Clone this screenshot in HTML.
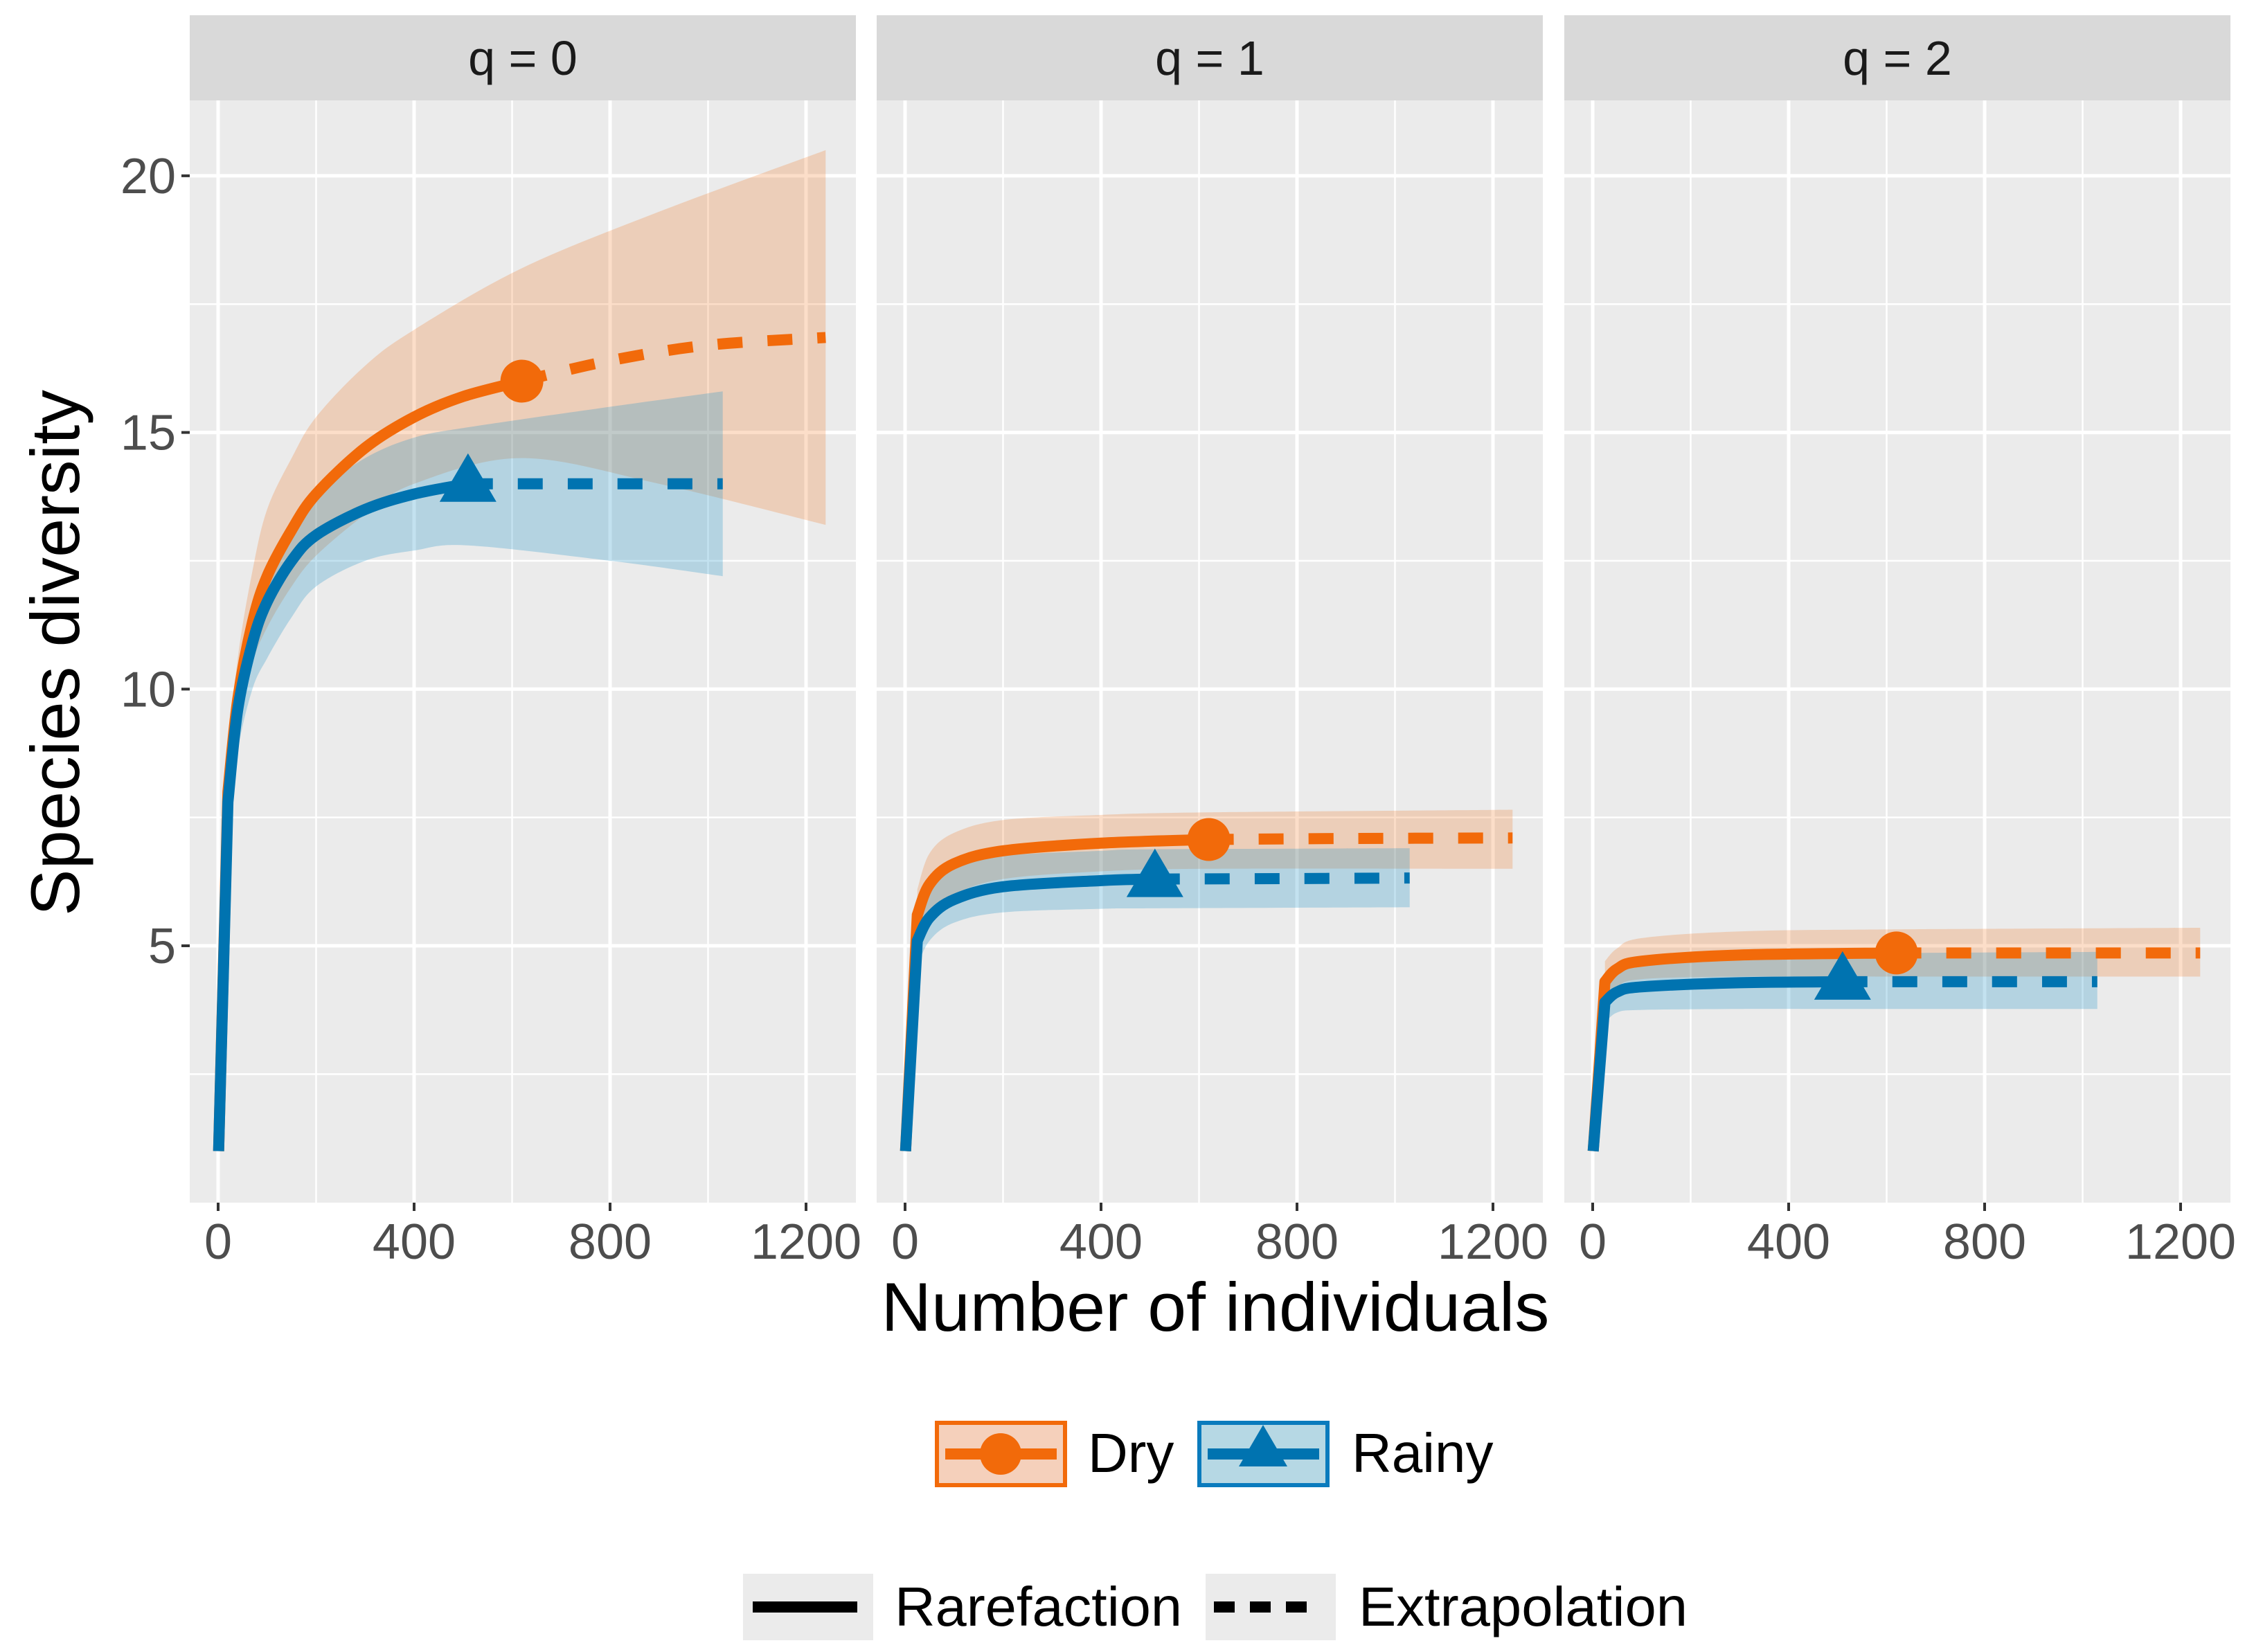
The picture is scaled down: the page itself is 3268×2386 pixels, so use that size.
<!DOCTYPE html>
<html><head><meta charset="utf-8">
<style>
html,body{margin:0;padding:0;background:#fff;}
svg{display:block;font-family:"Liberation Sans",Arial,sans-serif;}
</style></head>
<body>
<svg id="chart" width="3268" height="2386" viewBox="0 0 3268 2386" xmlns="http://www.w3.org/2000/svg"></svg>
<script>
// ---- data ----
const panelLabels = ["q = 0", "q = 1", "q = 2"];
const xTicks = [0, 400, 800, 1200];
const yTicks = [5, 10, 15, 20];
const dryRareX = [[1,20,40,70,100,150,200,300,400,500,620],[1,25,50,100,200,400,620],[1,25,50,100,300,620]];
const dryRareY = [[1,8,9.8,11.3,12.2,13.1,13.8,14.7,15.3,15.7,16.0],[1,5.6,6.2,6.6,6.85,7.0,7.07],[1,4.3,4.55,4.7,4.82,4.86]];
const dryExtX = [[620,800,1000,1240],[620,900,1240],[620,900,1240]];
const dryExtY = [[16.0,16.4,16.7,16.85],[7.07,7.09,7.1],[4.86,4.86,4.86]];
const dryCiX = [[20,40,70,100,150,200,300,400,620,900,1240],[25,50,100,200,400,620,1240],[25,50,100,300,620,1240]];
const dryCiLo = [[7.5,9.2,10.5,11.2,12.0,12.6,13.4,14.0,14.5,14.0,13.2],[5.1,5.6,6.0,6.3,6.45,6.5,6.5],[3.9,4.2,4.35,4.4,4.4,4.4]];
const dryCiHi = [[8.6,10.6,12.3,13.5,14.5,15.3,16.3,17.0,18.2,19.3,20.5],[6.1,6.8,7.2,7.45,7.55,7.6,7.65],[4.7,4.95,5.15,5.28,5.32,5.35]];
const rainyRareX = [[1,20,40,70,100,150,200,300,400,510],[1,25,50,100,200,400,510],[1,25,50,100,300,510]];
const rainyRareY = [[1,7.8,9.6,10.9,11.7,12.5,13.0,13.5,13.8,14.0],[1,5.1,5.55,5.9,6.15,6.27,6.3],[1,3.9,4.1,4.2,4.28,4.3]];
const rainyExtX = [[510,800,1030],[510,800,1030],[510,800,1030]];
const rainyExtY = [[14.0,14.0,14.0],[6.3,6.31,6.32],[4.3,4.3,4.3]];
const rainyCiX = [[20,40,70,100,150,200,300,400,510,800,1030],[25,50,100,200,400,510,1030],[25,50,100,300,510,1030]];
const rainyCiLo = [[7.2,8.8,10.0,10.6,11.4,12.0,12.5,12.7,12.8,12.5,12.2],[4.6,5.1,5.45,5.65,5.72,5.73,5.75],[3.5,3.7,3.75,3.77,3.77,3.77]];
const rainyCiHi = [[8.3,10.3,11.7,12.3,13.2,13.8,14.5,14.9,15.1,15.5,15.8],[5.6,6.1,6.5,6.75,6.85,6.88,6.9],[4.3,4.55,4.7,4.8,4.85,4.88]];
const dryRef = [[620,16.0],[620,7.07],[620,4.86]];
const rainyRef = [[510,14.0],[510,6.3],[510,4.3]];

// ---- layout ----
const NS = "http://www.w3.org/2000/svg";
const svg = document.getElementById("chart");
const panelW = 962, panelTop = 145, panelBot = 1737, stripTop = 22;
const panelLefts = [274, 1266, 2259];
const xOff = 41, xScale = 0.7075;
const yPx5 = 1366, yUnit = 74.14;
const ORANGE = "#f26a0a", BLUE = "#0073b0";
function el(tag, attrs, parent){const e=document.createElementNS(NS,tag);for(const k in attrs)e.setAttribute(k,attrs[k]);(parent||svg).appendChild(e);return e;}
function yPos(v){return yPx5-(v-5)*yUnit;}
function smooth(pts, start, straightFirst){
  let d = (start||"M")+pts[0][0]+","+pts[0][1];
  for(let i=0;i<pts.length-1;i++){
    let p0=pts[Math.max(0,i-1)];const p1=pts[i],p2=pts[i+1],p3=pts[Math.min(pts.length-1,i+2)];
    if(straightFirst && i===0){d+="L"+p2[0]+","+p2[1];continue;}
    if(straightFirst && i===1) p0=p1;
    const c1=[p1[0]+(p2[0]-p0[0])/6,p1[1]+(p2[1]-p0[1])/6];
    const c2=[p2[0]-(p3[0]-p1[0])/6,p2[1]-(p3[1]-p1[1])/6];
    d+="C"+c1.join(",")+" "+c2.join(",")+" "+p2.join(",");
  }
  return d;
}

panelLabels.forEach((lab,p)=>{
  const L = panelLefts[p];
  const xPos = v => L + xOff + v*xScale;
  const g = el("g",{});
  
  
  const strip = el("rect",{x:L,y:stripTop,width:panelW,height:panelTop-stripTop,fill:"#d9d9d9"},g);
  
  
  const st = el("text",{x:L+panelW/2,y:108,"text-anchor":"middle","font-size":70,fill:"#1a1a1a"},g);
  st.textContent = lab;
  
  
  const bg = el("rect",{x:L,y:panelTop,width:panelW,height:panelBot-panelTop,fill:"#ebebeb"},g);
  
  
  [200,600,1000].forEach(v=>el("line",{x1:xPos(v),x2:xPos(v),y1:panelTop,y2:panelBot,stroke:"#fff","stroke-width":2.5},g));
  [2.5,7.5,12.5,17.5].forEach(v=>el("line",{x1:L,x2:L+panelW,y1:yPos(v),y2:yPos(v),stroke:"#fff","stroke-width":2.5},g));
  xTicks.forEach(v=>el("line",{x1:xPos(v),x2:xPos(v),y1:panelTop,y2:panelBot,stroke:"#fff","stroke-width":5},g));
  yTicks.forEach(v=>el("line",{x1:L,x2:L+panelW,y1:yPos(v),y2:yPos(v),stroke:"#fff","stroke-width":5},g));
  xTicks.forEach(v=>{
    el("line",{x1:xPos(v),x2:xPos(v),y1:panelBot,y2:panelBot+12,stroke:"#333","stroke-width":4},g);
    const t=el("text",{x:xPos(v),y:1818,"text-anchor":"middle","font-size":72,fill:"#4d4d4d"},g);
    t.textContent=v;
    
    
  });
  if(p===0){
    yTicks.forEach(v=>{
      el("line",{x1:L-12,x2:L,y1:yPos(v),y2:yPos(v),stroke:"#333","stroke-width":4},g);
      const t=el("text",{x:L-20,y:yPos(v)+25,"text-anchor":"end","font-size":72,fill:"#4d4d4d"},g);
      t.textContent=v;
      
      
    });
  }
  function ribbon(xs,lo,hi,fill,name){
    const top = xs.map((x,i)=>[xPos(x),yPos(hi[i])]);
    const bot = xs.map((x,i)=>[xPos(x),yPos(lo[i])]).reverse();
    let d = smooth(top,"M",false) + smooth(bot,"L",false);
    const r=el("path",{d:d+"Z",fill:fill},g);
    
    
  }
  function line(xs,ys,col,dash,name){
    const pts = xs.map((x,i)=>[xPos(x),yPos(ys[i])]);
    const a={d:smooth(pts,"M",!dash),fill:"none",stroke:col,"stroke-width":16,"stroke-linejoin":"round"};
    if(dash)a["stroke-dasharray"]="36 36";
    const l=el("path",a,g);
    
    
  }
  ribbon(dryCiX[p],dryCiLo[p],dryCiHi[p],"rgba(242,106,10,0.22)","dry-ci-band");
  ribbon(rainyCiX[p],rainyCiLo[p],rainyCiHi[p],"rgba(40,150,200,0.28)","rainy-ci-band");
  line(dryRareX[p],dryRareY[p],ORANGE,false,"dry-rarefaction-line");
  line(dryExtX[p],dryExtY[p],ORANGE,true,"dry-extrapolation-line");
  line(rainyRareX[p],rainyRareY[p],BLUE,false,"rainy-rarefaction-line");
  line(rainyExtX[p],rainyExtY[p],BLUE,true,"rainy-extrapolation-line");
  const c=el("circle",{cx:xPos(dryRef[p][0]),cy:yPos(dryRef[p][1]),r:31,fill:ORANGE},g);
  
  
  const tx=xPos(rainyRef[p][0]), ty=yPos(rainyRef[p][1]);
  const tri=el("polygon",{points:`${tx},${ty-44} ${tx-41},${ty+26} ${tx+41},${ty+26}`,fill:BLUE},g);
  
  
});
</script>
<svg style="position:absolute;left:0;top:0" width="3268" height="2386">
  <text x="1755" y="1922" text-anchor="middle" font-size="99" textLength="965" lengthAdjust="spacingAndGlyphs" fill="#000" font-family="Liberation Sans, sans-serif">Number of individuals</text>
  <text transform="translate(114,943) rotate(-90)" text-anchor="middle" font-size="99" textLength="760" lengthAdjust="spacingAndGlyphs" fill="#000" font-family="Liberation Sans, sans-serif">Species diversity</text>
  <g>
    <rect x="1353" y="2055" width="185" height="90" fill="#f5d0bb" stroke="#f26a0a" stroke-width="6"/>
    <line x1="1365" x2="1526" y1="2100" y2="2100" stroke="#f26a0a" stroke-width="16"/>
    <circle cx="1445" cy="2100" r="30" fill="#f26a0a"/>
    <text x="1571" y="2126" font-size="80" fill="#000" font-family="Liberation Sans, sans-serif">Dry</text>
  </g>
  <g>
    <rect x="1732" y="2055" width="185" height="90" fill="#b6d8e4" stroke="#0a7bbd" stroke-width="6"/>
    <line x1="1744" x2="1905" y1="2100" y2="2100" stroke="#0073b0" stroke-width="16"/>
    <polygon points="1824,2058 1789,2118 1859,2118" fill="#0073b0"/>
    <text x="1952" y="2126" font-size="80" fill="#000" font-family="Liberation Sans, sans-serif">Rainy</text>
  </g>
  <g>
    <rect x="1073" y="2273" width="188" height="96" fill="#ebebeb"/>
    <line x1="1087" x2="1238" y1="2321" y2="2321" stroke="#000" stroke-width="16"/>
    <text x="1292" y="2348" font-size="80" textLength="415" lengthAdjust="spacingAndGlyphs" fill="#000" font-family="Liberation Sans, sans-serif">Rarefaction</text>
  </g>
  <g>
    <rect x="1741" y="2273" width="188" height="96" fill="#ebebeb"/>
    <line x1="1753" x2="1904" y1="2321" y2="2321" stroke="#000" stroke-width="16" stroke-dasharray="30 22"/>
    <text x="1962" y="2348" font-size="80" textLength="475" lengthAdjust="spacingAndGlyphs" fill="#000" font-family="Liberation Sans, sans-serif">Extrapolation</text>
  </g>
</svg>
</body></html>
